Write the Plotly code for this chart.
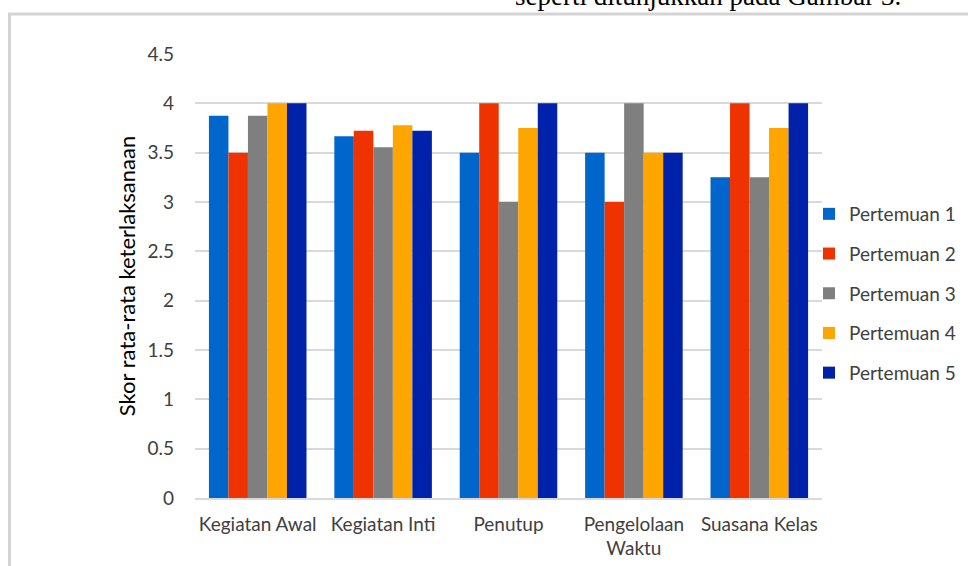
import plotly.graph_objects as go

# Aspek keterlaksanaan pembelajaran per pertemuan
categories = ["Kegiatan Awal", "Kegiatan Inti", "Penutup", "Pengelolaan<br>Waktu", "Suasana Kelas"]
series_names = ["Pertemuan 1", "Pertemuan 2", "Pertemuan 3", "Pertemuan 4", "Pertemuan 5"]
pertemuan_1 = [3.875, 3.667, 3.5, 3.5, 3.25]
pertemuan_2 = [3.5, 3.722, 4.0, 3.0, 4.0]
pertemuan_3 = [3.875, 3.556, 3.0, 4.0, 3.25]
pertemuan_4 = [4.0, 3.778, 3.75, 3.5, 3.75]
pertemuan_5 = [4.0, 3.722, 4.0, 3.5, 4.0]
y_ticks = [0, 0.5, 1, 1.5, 2, 2.5, 3, 3.5, 4, 4.5]
y_tick_labels = ["0", "0.5", "1", "1.5", "2", "2.5", "3", "3.5", "4", "4.5"]

colors = ["#0066CC", "#EE3300", "#7F7F7F", "#FFA500", "#0022AA"]
series = [pertemuan_1, pertemuan_2, pertemuan_3, pertemuan_4, pertemuan_5]

FONT = "Lato, 'Open Sans', sans-serif"
FS = 19

fig = go.Figure()
for name, vals, col in zip(series_names, series, colors):
    fig.add_trace(go.Bar(
        name=name, x=categories, y=vals,
        marker=dict(color=col, line=dict(width=0)),
        legendgroup=name,
    ))

W, H = 968, 566
L, R, T, B = 195, 146, 54, 68
pw, ph = W - L - R, H - T - B

def px_x(px):
    return (px - L) / pw

def px_y(py):
    return (H - B - py) / ph

# page frame around the figure
frame = dict(color="#D4D4D4", width=3)
fig.add_shape(type="line", xref="paper", yref="paper",
              x0=px_x(8), x1=px_x(968), y0=px_y(14), y1=px_y(14), line=frame)
fig.add_shape(type="line", xref="paper", yref="paper",
              x0=px_x(9.5), x1=px_x(9.5), y0=px_y(14), y1=px_y(566), line=frame)

# running text line of the page above the figure
fig.add_annotation(text="seperti ditunjukkan pada Gambar 3.", xref="paper", yref="paper",
                   x=px_x(513), y=px_y(-4), xanchor="left", yanchor="middle",
                   showarrow=False,
                   font=dict(family="'Liberation Serif', 'Times New Roman', serif", size=27, color="#000000"))

fig.update_layout(
    width=W, height=H,
    margin=dict(l=L, r=R, t=T, b=B, pad=0, autoexpand=False),
    paper_bgcolor="white", plot_bgcolor="white",
    barmode="group", bargap=0.222, bargroupgap=0,
    font=dict(family=FONT, size=FS, color="#404040"),
    showlegend=True,
    legend=dict(x=px_x(809), y=px_y(195), xanchor="left", yanchor="top",
                font=dict(family=FONT, size=FS, color="#404040"),
                tracegroupgap=12, itemwidth=30, bgcolor="rgba(0,0,0,0)"),
    xaxis=dict(showgrid=False, showline=True, linecolor="#D9D9D9", linewidth=1.5,
               ticks="", tickfont=dict(size=FS, color="#404040"), ticklabelstandoff=8,
               automargin=False),
    yaxis=dict(range=[0, 4.5], tickvals=y_ticks, ticktext=y_tick_labels,
               showgrid=True, gridcolor="#D9D9D9", gridwidth=1.5,
               zeroline=False, showline=False, ticks="", automargin=False,
               tickfont=dict(size=FS, color="#404040"), ticklabelstandoff=20,
               title=dict(text="Skor rata-rata keterlaksanaan", standoff=5,
                          font=dict(size=22, color="#000000"))),
)

fig.write_html("out.html")
